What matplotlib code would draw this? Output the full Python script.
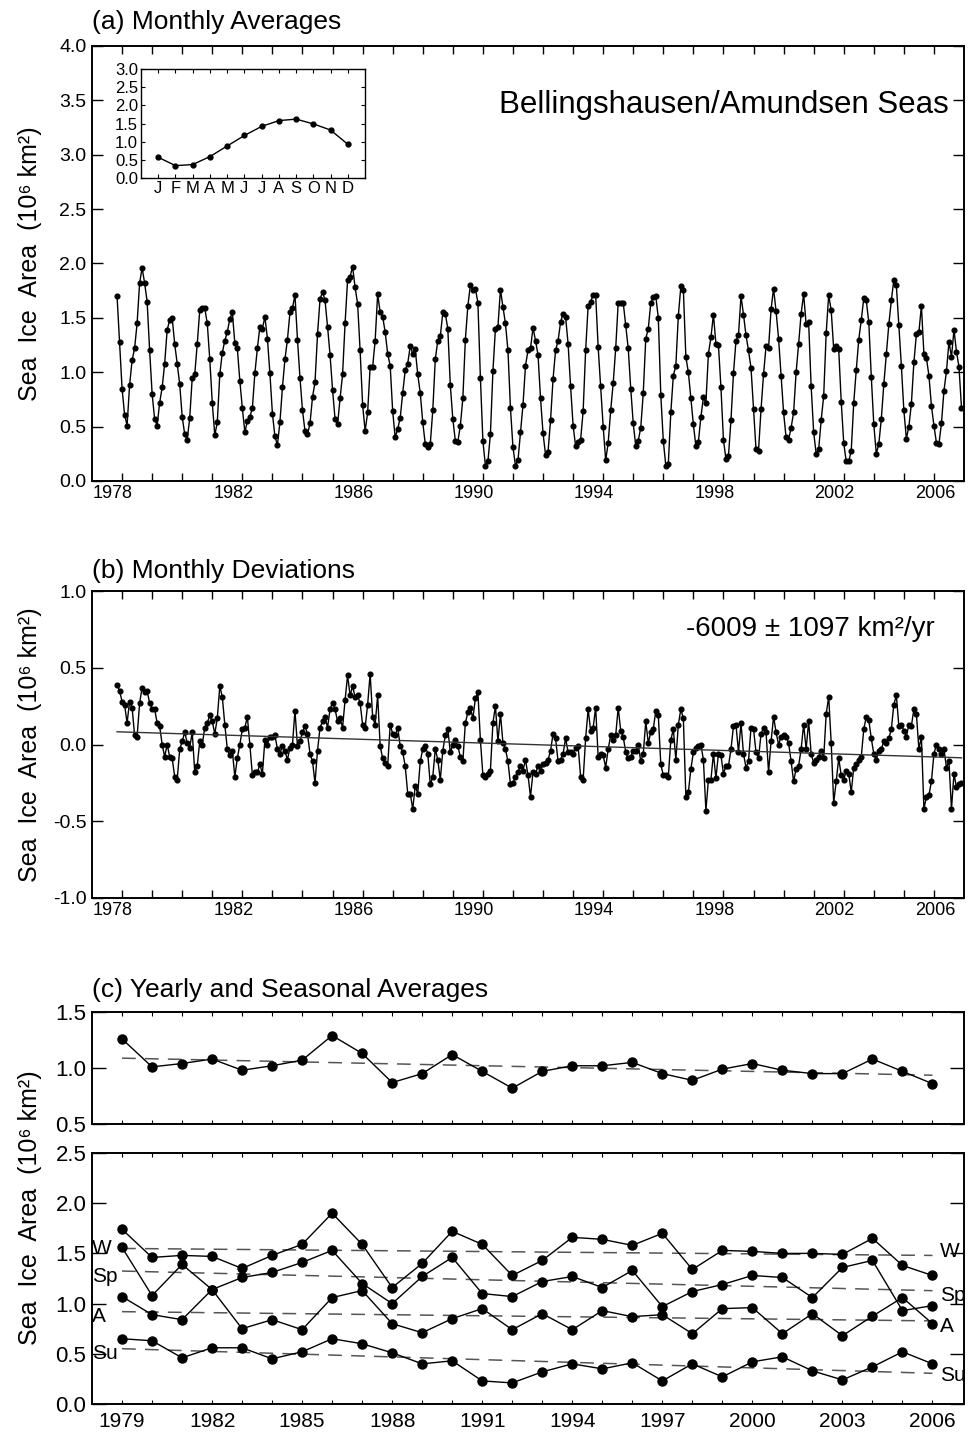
import numpy as np
import pandas as pd
import matplotlib
matplotlib.use('Agg')
import matplotlib.pyplot as plt

plt.rcParams['font.family'] = ['Liberation Sans', 'DejaVu Sans']

# ---------------- data ----------------
monthly_avg = [
    1.70, 1.28,
    0.85, 0.61, 0.51, 0.88, 1.11, 1.22, 1.45, 1.82, 1.96, 1.82, 1.65, 1.20,
    0.80, 0.57, 0.51, 0.72, 0.86, 1.08, 1.39, 1.48, 1.50, 1.26, 1.08, 0.89,
    0.59, 0.43, 0.38, 0.58, 0.95, 0.98, 1.26, 1.57, 1.59, 1.59, 1.45, 1.12,
    0.72, 0.42, 0.54, 0.98, 1.18, 1.29, 1.37, 1.49, 1.55, 1.27, 1.22, 0.92,
    0.67, 0.45, 0.55, 0.59, 0.67, 0.99, 1.22, 1.42, 1.40, 1.51, 1.31, 0.99,
    0.62, 0.41, 0.33, 0.54, 0.86, 1.12, 1.30, 1.55, 1.59, 1.71, 1.30, 0.95,
    0.65, 0.46, 0.43, 0.53, 0.77, 0.91, 1.35, 1.67, 1.74, 1.66, 1.42, 1.16,
    0.84, 0.57, 0.52, 0.76, 0.98, 1.45, 1.85, 1.88, 1.97, 1.78, 1.63, 1.20,
    0.70, 0.46, 0.63, 1.05, 1.05, 1.29, 1.72, 1.55, 1.51, 1.37, 1.17, 1.06,
    0.64, 0.40, 0.48, 0.58, 0.81, 1.02, 1.08, 1.24, 1.17, 1.21, 0.98, 0.81,
    0.54, 0.34, 0.31, 0.34, 0.65, 1.12, 1.29, 1.33, 1.55, 1.54, 1.40, 0.88,
    0.57, 0.37, 0.36, 0.51, 0.76, 1.30, 1.61, 1.80, 1.76, 1.77, 1.64, 0.95,
    0.37, 0.14, 0.18, 0.43, 1.01, 1.40, 1.42, 1.76, 1.60, 1.45, 1.20, 0.67,
    0.31, 0.14, 0.19, 0.45, 0.70, 1.06, 1.20, 1.22, 1.41, 1.29, 1.16, 0.76,
    0.44, 0.24, 0.27, 0.56, 0.94, 1.20, 1.29, 1.46, 1.54, 1.51, 1.26, 0.87,
    0.51, 0.32, 0.36, 0.38, 0.64, 1.20, 1.61, 1.65, 1.71, 1.71, 1.23, 0.87,
    0.50, 0.19, 0.35, 0.65, 0.90, 1.22, 1.64, 1.64, 1.64, 1.43, 1.22, 0.85,
    0.53, 0.32, 0.37, 0.49, 0.81, 1.31, 1.40, 1.64, 1.69, 1.70, 1.50, 0.79,
    0.37, 0.14, 0.16, 0.63, 0.97, 1.06, 1.52, 1.79, 1.76, 1.14, 1.00, 0.76,
    0.52, 0.32, 0.36, 0.59, 0.77, 0.72, 1.17, 1.32, 1.53, 1.26, 1.25, 0.86,
    0.38, 0.20, 0.23, 0.56, 0.99, 1.29, 1.34, 1.70, 1.53, 1.34, 1.20, 1.04,
    0.66, 0.29, 0.28, 0.66, 0.98, 1.24, 1.22, 1.58, 1.77, 1.56, 1.31, 0.97,
    0.63, 0.40, 0.38, 0.49, 0.63, 1.00, 1.26, 1.54, 1.72, 1.44, 1.46, 0.87,
    0.45, 0.25, 0.29, 0.56, 0.78, 1.36, 1.71, 1.57, 1.21, 1.24, 1.21, 0.73,
    0.35, 0.18, 0.18, 0.28, 0.72, 1.02, 1.30, 1.48, 1.68, 1.66, 1.46, 0.96,
    0.52, 0.25, 0.34, 0.57, 0.89, 1.17, 1.44, 1.66, 1.85, 1.80, 1.43, 1.06,
    0.65, 0.39, 0.50, 0.71, 1.09, 1.35, 1.37, 1.61, 1.17, 1.13, 0.97, 0.69,
    0.51, 0.35, 0.34, 0.53, 0.83, 1.01, 1.28, 1.14, 1.39, 1.19, 1.05, 0.67,
]

monthly_dev = [
    0.39, 0.35,
    0.28, 0.26, 0.14, 0.28, 0.24, 0.06, 0.05, 0.27, 0.37, 0.34, 0.35, 0.27,
    0.23, 0.23, 0.14, 0.12, 0.00, -0.08, 0.00, -0.08, -0.09, -0.21, -0.23, -0.03,
    0.02, 0.08, 0.01, -0.02, 0.08, -0.18, -0.14, 0.02, 0.00, 0.11, 0.14, 0.19,
    0.15, 0.07, 0.17, 0.38, 0.31, 0.13, -0.03, -0.07, -0.04, -0.21, -0.09, 0.00,
    0.10, 0.11, 0.18, 0.00, -0.20, -0.18, -0.18, -0.13, -0.19, 0.03, 0.00, 0.05,
    0.05, 0.06, -0.03, -0.06, -0.01, -0.04, -0.10, -0.02, 0.00, 0.22, -0.01, 0.02,
    0.08, 0.12, 0.07, -0.06, -0.11, -0.25, -0.04, 0.11, 0.15, 0.18, 0.11, 0.23,
    0.27, 0.23, 0.15, 0.17, 0.11, 0.29, 0.45, 0.32, 0.38, 0.31, 0.32, 0.27,
    0.13, 0.11, 0.26, 0.46, 0.18, 0.13, 0.32, -0.01, -0.09, -0.12, -0.14, 0.13,
    0.07, 0.06, 0.11, -0.01, -0.05, -0.14, -0.32, -0.32, -0.42, -0.27, -0.32, -0.11,
    -0.03, -0.01, -0.06, -0.26, -0.21, -0.03, -0.10, -0.23, -0.04, 0.06, 0.10, -0.05,
    0.00, 0.03, -0.01, -0.08, -0.11, 0.14, 0.21, 0.24, 0.17, 0.30, 0.34, 0.03,
    -0.20, -0.21, -0.19, -0.17, 0.14, 0.25, 0.02, 0.20, 0.01, -0.03, -0.11, -0.26,
    -0.25, -0.21, -0.18, -0.14, -0.17, -0.10, -0.20, -0.34, -0.18, -0.19, -0.14, -0.17,
    -0.13, -0.12, -0.10, -0.04, 0.07, 0.04, -0.11, -0.10, -0.06, 0.04, -0.05, -0.05,
    -0.06, -0.02, -0.01, -0.21, -0.23, 0.04, 0.23, 0.09, 0.11, 0.24, -0.08, -0.06,
    -0.07, -0.15, -0.03, 0.06, 0.03, 0.06, 0.24, 0.09, 0.05, -0.05, -0.09, -0.08,
    -0.04, -0.04, 0.00, -0.11, -0.06, 0.15, 0.01, 0.08, 0.10, 0.22, 0.19, -0.13,
    -0.20, -0.20, -0.21, 0.03, 0.10, -0.10, 0.13, 0.23, 0.17, -0.34, -0.31, -0.16,
    -0.05, -0.02, -0.01, 0.00, -0.10, -0.43, -0.23, -0.23, -0.06, -0.22, -0.06, -0.07,
    -0.19, -0.14, -0.14, -0.03, 0.12, 0.13, -0.05, 0.14, -0.06, -0.15, -0.11, 0.11,
    0.10, -0.05, -0.09, 0.07, 0.11, 0.08, -0.18, 0.02, 0.18, 0.08, 0.00, 0.05,
    0.06, 0.05, 0.01, -0.11, -0.24, -0.16, -0.14, -0.03, 0.13, -0.03, 0.15, -0.06,
    -0.12, -0.10, -0.08, -0.04, -0.09, 0.20, 0.31, 0.01, -0.38, -0.24, -0.09, -0.20,
    -0.23, -0.17, -0.19, -0.31, -0.15, -0.13, -0.10, -0.08, 0.10, 0.18, 0.16, 0.04,
    -0.06, -0.10, -0.04, -0.03, 0.02, 0.01, 0.04, 0.10, 0.26, 0.32, 0.12, 0.13,
    0.09, 0.05, 0.13, 0.12, 0.23, 0.20, -0.03, 0.05, -0.42, -0.34, -0.33, -0.24,
    -0.06, 0.00, -0.03, -0.06, -0.03, -0.15, -0.11, -0.42, -0.19, -0.28, -0.26, -0.25,
]

clim_labels = ['J', 'F', 'M', 'A', 'M', 'J', 'J', 'A', 'S', 'O', 'N', 'D']
clim_values = [0.57, 0.34, 0.37, 0.59, 0.88, 1.17, 1.42, 1.58, 1.62, 1.49, 1.32, 0.93]

years = list(range(1979, 2007))
yearly = [1.26, 1.01, 1.04, 1.08, 0.98, 1.02, 1.07, 1.29, 1.13, 0.87, 0.95, 1.12, 0.97,
          0.82, 0.97, 1.02, 1.02, 1.05, 0.95, 0.89, 0.99, 1.04, 0.98, 0.95, 0.95, 1.08, 0.97, 0.86]
winter = [1.74, 1.46, 1.48, 1.47, 1.35, 1.48, 1.59, 1.90, 1.59, 1.16, 1.40, 1.72, 1.59,
          1.28, 1.43, 1.66, 1.64, 1.58, 1.70, 1.34, 1.53, 1.52, 1.50, 1.50, 1.49, 1.65, 1.38, 1.28]
spring = [1.56, 1.08, 1.39, 1.14, 1.26, 1.31, 1.41, 1.53, 1.20, 1.00, 1.27, 1.46, 1.10,
          1.07, 1.22, 1.27, 1.16, 1.33, 0.97, 1.12, 1.19, 1.28, 1.26, 1.06, 1.36, 1.43, 0.93, 0.98]
autumn = [1.07, 0.89, 0.84, 1.14, 0.75, 0.84, 0.74, 1.06, 1.13, 0.80, 0.71, 0.85, 0.95,
          0.74, 0.90, 0.74, 0.93, 0.87, 0.89, 0.70, 0.95, 0.96, 0.70, 0.90, 0.68, 0.875, 1.06, 0.80]
summer = [0.65, 0.63, 0.46, 0.56, 0.56, 0.45, 0.52, 0.65, 0.60, 0.51, 0.40, 0.43, 0.23,
          0.21, 0.32, 0.40, 0.35, 0.41, 0.23, 0.40, 0.27, 0.42, 0.47, 0.33, 0.24, 0.37, 0.52, 0.40]

trend_text = '-6009 \u00b1 1097 km\u00b2/yr'
region_name = 'Bellingshausen/Amundsen Seas'

# month positions (decimal years at month start)
dates = pd.date_range('1978-11-01', '2006-12-01', freq='MS')
t = np.asarray(dates.year + (dates.month - 1) / 12.0, dtype=float)

# ---------------- figure ----------------
W, H = 976, 1433
fig = plt.figure(figsize=(W / 100, H / 100), dpi=100)


def ax_px(x0, y0, x1, y1):
    return fig.add_axes([x0 / W, 1 - y1 / H, (x1 - x0) / W, (y1 - y0) / H])


LW_SP = 1.4
TICKFS = 13
TITLEFS = 19
label_years = [1978, 1982, 1986, 1990, 1994, 1998, 2002, 2006]
label_pos = [1978.7, 1982.7, 1986.7, 1990.7, 1994.7, 1998.7, 2002.7, 2006.05]


def style_monthly_axis(ax):
    for s in ax.spines.values():
        s.set_linewidth(LW_SP)
    ax.set_xlim(1978, 2007)
    ax.set_xticks(label_pos)
    ax.set_xticklabels([str(y) for y in label_years], fontsize=TICKFS)
    ax.tick_params(axis='x', which='major', length=0, pad=3)
    ax.set_xticks(np.arange(1979, 2007), minor=True)
    ax.tick_params(axis='x', which='minor', direction='in', length=6, width=1.0,
                   top=True, bottom=True)
    ax.tick_params(axis='y', which='major', direction='in', length=8, width=1.0,
                   left=True, right=True, labelsize=TICKFS + 1, pad=4)


ylab = 'Sea  Ice  Area  (10\u2076 km\u00b2)'
YLABFS = 18

# ---- panel (a)
ax_a = ax_px(92, 46, 964, 481)
ax_a.plot(t, monthly_avg, color='black', lw=1.0, marker='o', ms=3.4)
ax_a.set_ylim(0, 4.0)
ax_a.set_yticks(np.arange(0, 4.01, 0.5))
ax_a.set_yticklabels(['%.1f' % v for v in np.arange(0, 4.01, 0.5)])
style_monthly_axis(ax_a)
ax_a.text(0.983, 0.865, region_name, transform=ax_a.transAxes, ha='right', va='center',
          fontsize=22.5)
fig.text(30 / W, 1 - 264 / H, ylab, rotation=90, ha='center', va='center', fontsize=YLABFS)
fig.text(92 / W, 1 - 22 / H, '(a) Monthly Averages', ha='left', va='center', fontsize=TITLEFS)

# inset climatology
ax_i = ax_px(141, 69, 365, 178)
ax_i.plot(np.arange(1, 13), clim_values, color='black', lw=1.0, marker='o', ms=3.5)
ax_i.set_xlim(0, 13)
ax_i.set_ylim(0, 3.0)
ax_i.set_xticks(np.arange(1, 13))
ax_i.set_xticklabels(clim_labels, fontsize=12)
ax_i.set_yticks(np.arange(0, 3.01, 0.5))
ax_i.set_yticklabels(['%.1f' % v for v in np.arange(0, 3.01, 0.5)], fontsize=12)
ax_i.tick_params(axis='both', direction='in', length=3, width=0.8, top=True, right=True, pad=2)
for s in ax_i.spines.values():
    s.set_linewidth(1.0)

# ---- panel (b)
ax_b = ax_px(92, 591, 964, 898)
ax_b.plot(t, monthly_dev, color='black', lw=1.0, marker='o', ms=3.4)
coef = np.polyfit(t, monthly_dev, 1)
ax_b.plot([t[0], t[-1]], np.polyval(coef, [t[0], t[-1]]), color='#333333', lw=1.0)
ax_b.set_ylim(-1.0, 1.0)
ax_b.set_yticks(np.arange(-1.0, 1.01, 0.5))
ax_b.set_yticklabels(['%.1f' % v for v in np.arange(-1.0, 1.01, 0.5)])
style_monthly_axis(ax_b)
ax_b.text(0.966, 0.876, trend_text, transform=ax_b.transAxes, ha='right', va='center',
          fontsize=20)
fig.text(30 / W, 1 - 745 / H, ylab, rotation=90, ha='center', va='center', fontsize=YLABFS)
fig.text(92 / W, 1 - 571 / H, '(b) Monthly Deviations', ha='left', va='center', fontsize=TITLEFS)

# ---- panel (c)
yr = np.array(years, dtype=float)
DASH_COLOR = '#555555'


def style_c(ax):
    for s in ax.spines.values():
        s.set_linewidth(LW_SP)
    ax.set_xlim(1978, 2007.05)
    ax.set_xticks(np.arange(1979, 2007))
    ax.tick_params(axis='x', which='major', direction='in', length=3, width=0.8,
                   top=True, bottom=True)
    ax.tick_params(axis='y', which='major', direction='in', length=10, width=1.0,
                   left=True, right=True, labelsize=16, pad=4)


def trend(ax, vals):
    c = np.polyfit(yr, vals, 1)
    ax.plot([yr[0], yr[-1]], np.polyval(c, [yr[0], yr[-1]]), color=DASH_COLOR, lw=1.1,
            dashes=(9, 6))


ax_c1 = ax_px(92, 1012, 964, 1124)
trend(ax_c1, yearly)
ax_c1.plot(yr, yearly, color='black', lw=1.0, marker='o', ms=6.5)
ax_c1.set_ylim(0.5, 1.5)
ax_c1.set_yticks([0.5, 1.0, 1.5])
ax_c1.set_yticklabels(['0.5', '1.0', '1.5'])
style_c(ax_c1)
ax_c1.set_xticklabels([])
fig.text(92 / W, 1 - 990 / H, '(c) Yearly and Seasonal Averages', ha='left', va='center',
         fontsize=TITLEFS)

ax_c2 = ax_px(92, 1153, 964, 1404)
for vals in (winter, spring, autumn, summer):
    trend(ax_c2, vals)
for vals in (winter, spring, autumn, summer):
    ax_c2.plot(yr, vals, color='black', lw=1.0, marker='o', ms=6.5)
ax_c2.set_ylim(0, 2.5)
ax_c2.set_yticks(np.arange(0, 2.51, 0.5))
ax_c2.set_yticklabels(['%.1f' % v for v in np.arange(0, 2.51, 0.5)])
style_c(ax_c2)
lab_years = list(range(1979, 2007, 3))
ax_c2.set_xticks(lab_years)
ax_c2.set_xticklabels([str(y) for y in lab_years], fontsize=15)
ax_c2.set_xticks(np.arange(1979, 2007), minor=True)
ax_c2.tick_params(axis='x', which='both', direction='in', length=3, width=0.8,
                  top=True, bottom=True, pad=6)

season_left = [('W', 1.55), ('Sp', 1.27), ('A', 0.87), ('Su', 0.50)]
season_right = [('W', 1.515), ('Sp', 1.08), ('A', 0.775), ('Su', 0.28)]
for name, yv in season_left:
    ax_c2.text(1978.0, yv, name, ha='left', va='center', fontsize=15)
for name, yv in season_right:
    ax_c2.text(2006.25, yv, name, ha='left', va='center', fontsize=15)

fig.text(30 / W, 1 - 1208 / H, ylab, rotation=90, ha='center', va='center', fontsize=YLABFS)

fig.savefig('out.png', dpi=100)
